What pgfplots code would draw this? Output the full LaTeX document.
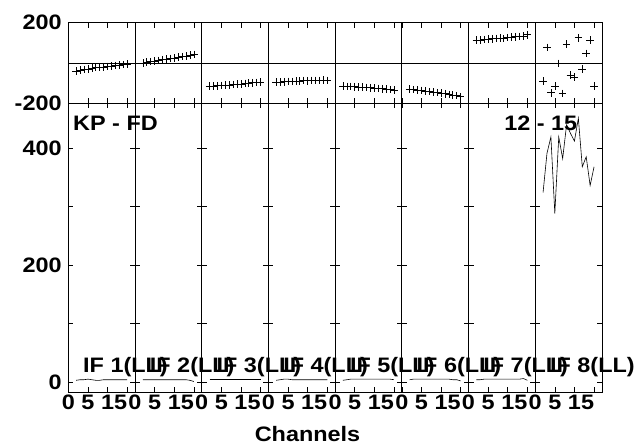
\documentclass[border=0pt]{standalone}
\usepackage{fontspec}
\setmainfont{Liberation Sans}[FakeStretch=1.12]
\usepackage{pgfplots}
\pgfplotsset{compat=1.18}

\newcommand{\lbl}{\bfseries\fontsize{21}{21}\selectfont}

\pgfplotsset{
  panel/.style={
    scale only axis, width=66.7bp, anchor=north west,
    xmin=0, xmax=17, xtick={0,5,10,15},
    tick align=inside, tick pos=both, major tick length=5bp,
    xticklabel pos=lower, yticklabel pos=left,
    xticklabels={}, yticklabels={},
    axis line style={line width=0.7pt},
    every tick/.style={black, line width=0.6pt},
    /pgf/number format/assume math mode=true,
    ticklabel style={font=\lbl},
    xticklabel style={inner sep=0pt, yshift=-3bp},
    yticklabel style={inner sep=0pt, xshift=-6.5bp},
    clip=false,
  },
  phase/.style={panel, height=80.3bp, ymin=-200, ymax=200, ytick={-200,200},
    extra y ticks={0}, extra y tick labels={},
    extra y tick style={grid=major, major grid style={black, line width=0.6pt}}},
  amp/.style={panel, height=289bp, ymin=-17, ymax=477, ytick={0,100,200,300,400},
    xticklabels={0,5,,15\hphantom{15}}},
  ph/.style={only marks, mark=+, mark size=3.8bp, black, mark options={line width=0.65pt}},
  am/.style={black, line width=0.6pt, no marks},
}

\begin{document}
\begin{tikzpicture}
\path (0,0) rectangle (641bp,-445bp);

% phase row
\begin{axis}[phase, at={(68.3bp,-22.7bp)}, yticklabels={-200,200}]
\addplot[ph] coordinates {(2,-40)(3,-37)(4,-33)(5,-31)(6,-26)(7,-24)(8,-22)(9,-20)(10,-18)(11,-15)(12,-13)(13,-12)(14,-9)(15,-6)};
\end{axis}
\begin{axis}[phase, at={(135.0bp,-22.7bp)}]
\addplot[ph] coordinates {(2,0)(3,3)(4,6)(5,10)(6,12)(7,16)(8,19)(9,22)(10,25)(11,29)(12,31)(13,35)(14,39)(15,42)};
\end{axis}
\begin{axis}[phase, at={(201.7bp,-22.7bp)}]
\addplot[ph] coordinates {(2,-116)(3,-115)(4,-114)(5,-112)(6,-111)(7,-110)(8,-108)(9,-106)(10,-105)(11,-103)(12,-101)(13,-99)(14,-97)(15,-95)};
\end{axis}
\begin{axis}[phase, at={(268.4bp,-22.7bp)}]
\addplot[ph] coordinates {(2,-96)(3,-95)(4,-94)(5,-93)(6,-93)(7,-91)(8,-90)(9,-87)(10,-89)(11,-88)(12,-87)(13,-88)(14,-86)(15,-87)};
\end{axis}
\begin{axis}[phase, at={(335.1bp,-22.7bp)}]
\addplot[ph] coordinates {(2,-116)(3,-117)(4,-118)(5,-119)(6,-120)(7,-121)(8,-123)(9,-124)(10,-126)(11,-127)(12,-129)(13,-131)(14,-133)(15,-136)};
\end{axis}
\begin{axis}[phase, at={(401.8bp,-22.7bp)}]
\addplot[ph] coordinates {(2,-131)(3,-133)(4,-135)(5,-137)(6,-140)(7,-143)(8,-145)(9,-148)(10,-151)(11,-154)(12,-157)(13,-160)(14,-163)(15,-169)};
\end{axis}
\begin{axis}[phase, at={(468.5bp,-22.7bp)}]
\addplot[ph] coordinates {(2,113)(3,113)(4,116)(5,118)(6,120)(7,122)(8,124)(9,121)(10,126)(11,128)(12,130)(13,132)(14,134)(15,140)};
\end{axis}
\begin{axis}[phase, at={(535.2bp,-22.7bp)}]
\addplot[ph] coordinates {(2,-91)(3,77)(4,-149)(5,-115)(6,-3)(7,-152)(8,93)(9,-61)(10,-70)(11,125)(12,-30)(13,47)(14,113)(15,-116)};
\end{axis}

% amplitude row
\begin{axis}[amp, at={(68.3bp,-103bp)}, yticklabels={0,,200,,400}]
\addplot[am] coordinates {(2,3)(3,4)(4,4)(5,5)(6,4)(7,3)(8,3)(9,4)(10,4)(11,4)(12,4)(13,4)(14,4)(15,4)};
\end{axis}
\begin{axis}[amp, at={(135.0bp,-103bp)}]
\addplot[am] coordinates {(2,4)(3,4)(4,4)(5,4)(6,4)(7,4)(8,4)(9,4)(10,4)(11,4)(12,4)(13,4)(14,3)(15,1)};
\end{axis}
\begin{axis}[amp, at={(201.7bp,-103bp)}]
\addplot[am] coordinates {(2,4)(3,4)(4,4)(5,4)(6,4)(7,4)(8,4)(9,4)(10,4)(11,4)(12,4)(13,4)(14,4)(15,4)};
\end{axis}
\begin{axis}[amp, at={(268.4bp,-103bp)}]
\addplot[am] coordinates {(2,3)(3,4)(4,5)(5,5)(6,4)(7,4)(8,4)(9,4)(10,4)(11,4)(12,4)(13,4)(14,4)(15,4)};
\end{axis}
\begin{axis}[amp, at={(335.1bp,-103bp)}]
\addplot[am] coordinates {(2,3)(3,4)(4,5)(5,5)(6,5)(7,5)(8,5)(9,5)(10,5)(11,5)(12,5)(13,5)(14,5)(15,4)};
\end{axis}
\begin{axis}[amp, at={(401.8bp,-103bp)}]
\addplot[am] coordinates {(2,4)(3,5)(4,5)(5,5)(6,5)(7,5)(8,5)(9,5)(10,5)(11,5)(12,5)(13,4)(14,4)(15,2)};
\end{axis}
\begin{axis}[amp, at={(468.5bp,-103bp)}]
\addplot[am] coordinates {(2,4)(3,4)(4,5)(5,5)(6,5)(7,5)(8,5)(9,5)(10,5)(11,5)(12,5)(13,5)(14,6)(15,3)};
\end{axis}
\begin{axis}[amp, at={(535.2bp,-103bp)}]
\addplot[am] coordinates {(2,324)(3,391)(4,419)(5,288)(6,419)(7,382)(8,440)(9,425)(10,412)(11,451)(12,368)(13,385)(14,336)(15,368)};
\end{axis}

% labels
\begin{scope}[every node/.style={font=\lbl, inner sep=0pt}]
\node[anchor=base west] at (73bp,-130.5bp) {KP - FD};
\node[anchor=base east] at (577.5bp,-130.5bp) {12 - 15};
\node[anchor=base west] at (83bp,-372bp) {IF 1(LL)};
\node[anchor=base west] at (149.7bp,-372bp) {IF 2(LL)};
\node[anchor=base west] at (216.4bp,-372bp) {IF 3(LL)};
\node[anchor=base west] at (283.1bp,-372bp) {IF 4(LL)};
\node[anchor=base west] at (349.8bp,-372bp) {IF 5(LL)};
\node[anchor=base west] at (416.5bp,-372bp) {IF 6(LL)};
\node[anchor=base west] at (483.2bp,-372bp) {IF 7(LL)};
\node[anchor=base west] at (549.9bp,-372bp) {IF 8(LL)};
\node[anchor=base] at (307.5bp,-441.5bp) {Channels};
\end{scope}
\end{tikzpicture}
\end{document}
